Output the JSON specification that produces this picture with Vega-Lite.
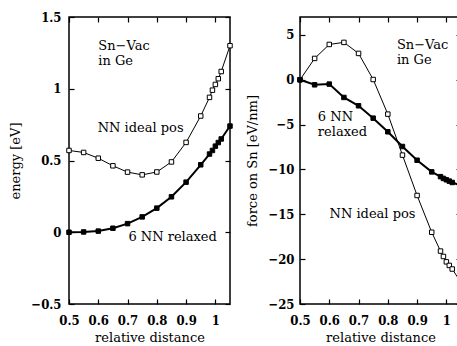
{
  "$schema": "https://vega.github.io/schema/vega-lite/v6.json",
  "background": "white",
  "padding": {"left": 9, "top": 10, "right": 0, "bottom": 0},
  "spacing": 70,
  "bounds": "flush",
  "config": {
    "font": "DejaVu Serif",
    "view": {"stroke": "black", "strokeWidth": 1.5},
    "axis": {
      "domain": false,
      "grid": false,
      "ticks": true,
      "tickSize": -5,
      "tickColor": "black",
      "tickWidth": 1.2,
      "labelOverlap": false,
      "labelFlush": false,
      "labelFont": "DejaVu Serif Condensed, DejaVu Serif",
      "labelFontSize": 13,
      "labelFontWeight": "bold",
      "labelColor": "black",
      "titleFont": "DejaVu Serif",
      "titleFontSize": 13,
      "titleFontWeight": "normal",
      "titleColor": "black"
    },
    "text": {"font": "DejaVu Serif", "fontSize": 13, "align": "left", "baseline": "middle", "color": "black"}
  },
  "datasets": {
    "energy": [
      {"d": 0.5, "v": 0.57, "s": "ideal"}, {"d": 0.55, "v": 0.556, "s": "ideal"}, {"d": 0.6, "v": 0.516, "s": "ideal"},
      {"d": 0.65, "v": 0.463, "s": "ideal"}, {"d": 0.7, "v": 0.419, "s": "ideal"}, {"d": 0.75, "v": 0.40, "s": "ideal"},
      {"d": 0.8, "v": 0.42, "s": "ideal"}, {"d": 0.85, "v": 0.49, "s": "ideal"}, {"d": 0.9, "v": 0.626, "s": "ideal"},
      {"d": 0.95, "v": 0.81, "s": "ideal"}, {"d": 0.98, "v": 0.94, "s": "ideal"}, {"d": 0.99, "v": 0.99, "s": "ideal"},
      {"d": 1.0, "v": 1.03, "s": "ideal"}, {"d": 1.01, "v": 1.07, "s": "ideal"}, {"d": 1.02, "v": 1.12, "s": "ideal"},
      {"d": 1.05, "v": 1.30, "s": "ideal"},
      {"d": 0.5, "v": 0.0, "s": "relaxed"}, {"d": 0.55, "v": 0.002, "s": "relaxed"}, {"d": 0.6, "v": 0.008, "s": "relaxed"},
      {"d": 0.65, "v": 0.028, "s": "relaxed"}, {"d": 0.7, "v": 0.06, "s": "relaxed"}, {"d": 0.75, "v": 0.107, "s": "relaxed"},
      {"d": 0.8, "v": 0.168, "s": "relaxed"}, {"d": 0.85, "v": 0.247, "s": "relaxed"}, {"d": 0.9, "v": 0.349, "s": "relaxed"},
      {"d": 0.95, "v": 0.47, "s": "relaxed"}, {"d": 0.98, "v": 0.545, "s": "relaxed"}, {"d": 0.99, "v": 0.57, "s": "relaxed"},
      {"d": 1.0, "v": 0.60, "s": "relaxed"}, {"d": 1.01, "v": 0.625, "s": "relaxed"}, {"d": 1.02, "v": 0.65, "s": "relaxed"},
      {"d": 1.05, "v": 0.74, "s": "relaxed"}
    ],
    "force": [
      {"d": 0.5, "v": 0.0, "s": "ideal"}, {"d": 0.55, "v": 2.38, "s": "ideal"}, {"d": 0.6, "v": 3.94, "s": "ideal"},
      {"d": 0.65, "v": 4.17, "s": "ideal"}, {"d": 0.7, "v": 2.94, "s": "ideal"}, {"d": 0.75, "v": 0.03, "s": "ideal"},
      {"d": 0.8, "v": -3.83, "s": "ideal"}, {"d": 0.85, "v": -8.4, "s": "ideal"}, {"d": 0.9, "v": -12.9, "s": "ideal"},
      {"d": 0.95, "v": -17.0, "s": "ideal"}, {"d": 0.98, "v": -19.1, "s": "ideal"}, {"d": 0.99, "v": -19.7, "s": "ideal"},
      {"d": 1.0, "v": -20.3, "s": "ideal"}, {"d": 1.01, "v": -20.7, "s": "ideal"}, {"d": 1.02, "v": -21.1, "s": "ideal"},
      {"d": 1.05, "v": -22.6, "s": "ideal"},
      {"d": 0.5, "v": 0.0, "s": "relaxed"}, {"d": 0.55, "v": -0.56, "s": "relaxed"}, {"d": 0.6, "v": -0.48, "s": "relaxed"},
      {"d": 0.65, "v": -1.97, "s": "relaxed"}, {"d": 0.7, "v": -2.9, "s": "relaxed"}, {"d": 0.75, "v": -4.28, "s": "relaxed"},
      {"d": 0.8, "v": -5.8, "s": "relaxed"}, {"d": 0.85, "v": -7.44, "s": "relaxed"}, {"d": 0.9, "v": -8.97, "s": "relaxed"},
      {"d": 0.95, "v": -10.27, "s": "relaxed"}, {"d": 0.98, "v": -10.8, "s": "relaxed"}, {"d": 0.99, "v": -11.0, "s": "relaxed"},
      {"d": 1.0, "v": -11.15, "s": "relaxed"}, {"d": 1.01, "v": -11.3, "s": "relaxed"}, {"d": 1.02, "v": -11.45, "s": "relaxed"},
      {"d": 1.05, "v": -11.8, "s": "relaxed"}
    ],
    "notesE": [
      {"d": 0.6, "v": 1.30, "t": "Sn−Vac"},
      {"d": 0.6, "v": 1.19, "t": "in Ge"},
      {"d": 0.598, "v": 0.728, "t": "NN ideal pos"},
      {"d": 0.703, "v": -0.03, "t": "6 NN relaxed"}
    ],
    "notesF": [
      {"d": 0.831, "v": 3.85, "t": "Sn−Vac"},
      {"d": 0.831, "v": 2.2, "t": "in Ge"},
      {"d": 0.561, "v": -4.15, "t": "6 NN"},
      {"d": 0.561, "v": -5.8, "t": "relaxed"},
      {"d": 0.601, "v": -15.0, "t": "NN ideal pos"}
    ]
  },
  "hconcat": [
    {
      "width": 161,
      "height": 287,
      "resolve": {"axis": {"x": "independent", "y": "independent"}},
      "layer": [
        {
          "data": {"name": "energy"},
          "mark": {"type": "line", "color": "black"},
          "encoding": {
            "x": {"field": "d", "type": "quantitative", "scale": {"domain": [0.5, 1.05], "nice": false, "zero": false},
                  "axis": {"orient": "bottom", "values": [0.5, 0.6, 0.7, 0.8, 0.9, 1.0], "format": ".1~f", "title": "relative distance", "labelPadding": 15, "titlePadding": 4}},
            "y": {"field": "v", "type": "quantitative", "scale": {"domain": [-0.5, 1.5], "nice": false, "zero": false},
                  "axis": {"orient": "left", "values": [-0.5, 0, 0.5, 1, 1.5], "format": ".1~f", "title": "energy [eV]", "labelPadding": 13, "titlePadding": 8}},
            "detail": {"field": "s"},
            "strokeWidth": {"field": "s", "type": "nominal", "scale": {"domain": ["ideal", "relaxed"], "range": [1, 2]}, "legend": null}
          }
        },
        {
          "data": {"name": "energy"},
          "mark": {"type": "point", "shape": "square", "size": 20, "stroke": "black", "strokeWidth": 1, "opacity": 1, "filled": true},
          "encoding": {
            "x": {"field": "d", "type": "quantitative", "axis": null},
            "y": {"field": "v", "type": "quantitative", "axis": null},
            "fill": {"field": "s", "type": "nominal", "scale": {"domain": ["ideal", "relaxed"], "range": ["white", "black"]}, "legend": null}
          }
        },
        {
          "data": {"name": "notesE"},
          "mark": {"type": "text"},
          "encoding": {
            "x": {"field": "d", "type": "quantitative", "axis": {"orient": "top", "values": [0.5, 0.6, 0.7, 0.8, 0.9, 1.0], "labels": false, "title": null}},
            "y": {"field": "v", "type": "quantitative", "axis": {"orient": "right", "values": [-0.5, 0, 0.5, 1, 1.5], "labels": false, "title": null}},
            "text": {"field": "t"}
          }
        }
      ]
    },
    {
      "width": 161,
      "height": 287,
      "resolve": {"axis": {"x": "independent", "y": "independent"}},
      "layer": [
        {
          "data": {"name": "force"},
          "mark": {"type": "line", "color": "black"},
          "encoding": {
            "x": {"field": "d", "type": "quantitative", "scale": {"domain": [0.5, 1.05], "nice": false, "zero": false},
                  "axis": {"orient": "bottom", "values": [0.5, 0.6, 0.7, 0.8, 0.9, 1.0], "format": ".1~f", "title": "relative distance", "labelPadding": 15, "titlePadding": 4}},
            "y": {"field": "v", "type": "quantitative", "scale": {"domain": [-25, 7], "nice": false, "zero": false},
                  "axis": {"orient": "left", "values": [-25, -20, -15, -10, -5, 0, 5], "format": "d", "title": "force on Sn [eV/nm]", "labelPadding": 11, "titlePadding": 8}},
            "detail": {"field": "s"},
            "strokeWidth": {"field": "s", "type": "nominal", "scale": {"domain": ["ideal", "relaxed"], "range": [1, 2]}, "legend": null}
          }
        },
        {
          "data": {"name": "force"},
          "mark": {"type": "point", "shape": "square", "size": 20, "stroke": "black", "strokeWidth": 1, "opacity": 1, "filled": true},
          "encoding": {
            "x": {"field": "d", "type": "quantitative", "axis": null},
            "y": {"field": "v", "type": "quantitative", "axis": null},
            "fill": {"field": "s", "type": "nominal", "scale": {"domain": ["ideal", "relaxed"], "range": ["white", "black"]}, "legend": null}
          }
        },
        {
          "data": {"name": "notesF"},
          "mark": {"type": "text"},
          "encoding": {
            "x": {"field": "d", "type": "quantitative", "axis": {"orient": "top", "values": [0.5, 0.6, 0.7, 0.8, 0.9, 1.0], "labels": false, "title": null}},
            "y": {"field": "v", "type": "quantitative", "axis": {"orient": "right", "values": [-25, -20, -15, -10, -5, 0, 5], "labels": false, "title": null}},
            "text": {"field": "t"}
          }
        }
      ]
    }
  ]
}
